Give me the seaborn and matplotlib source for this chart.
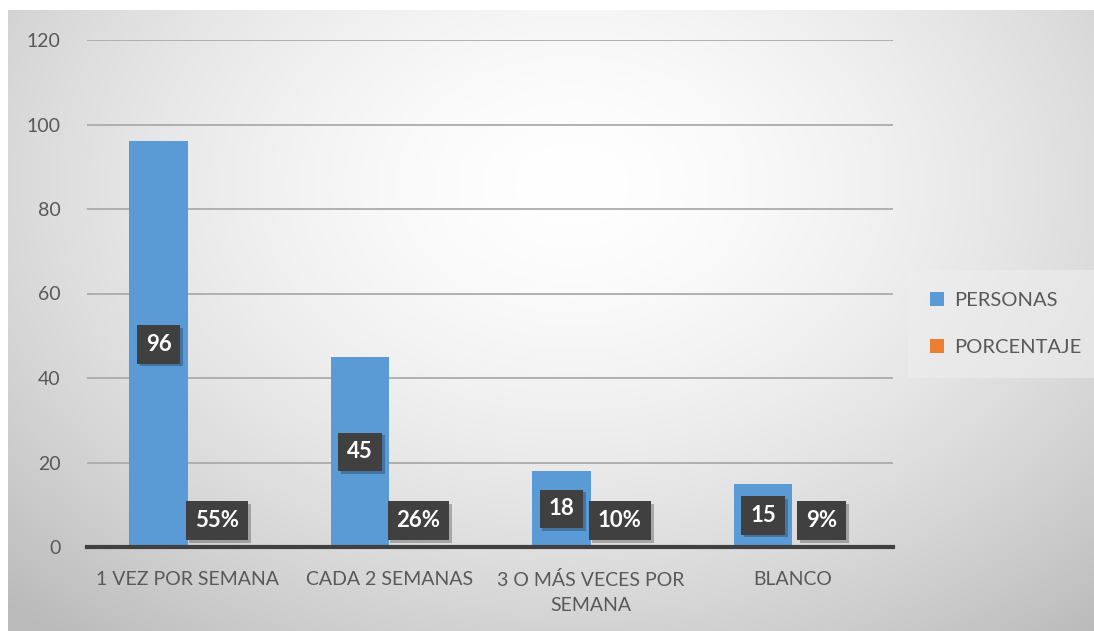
import seaborn as sns
import matplotlib.pyplot as plt
import matplotlib.patheffects as pe
import numpy as np
import pandas as pd

categorias = ['1 VEZ POR SEMANA', 'CADA 2 SEMANAS', '3 O MÁS VECES POR\nSEMANA', 'BLANCO']
personas = [96, 45, 18, 15]
porcentaje = [0.55, 0.26, 0.10, 0.09]
etiquetas_pct = ['55%', '26%', '10%', '9%']
series = ['PERSONAS', 'PORCENTAJE']
colores = ['#5B9BD5', '#ED7D31']
yticks = [0, 20, 40, 60, 80, 100, 120]

df = pd.DataFrame({
    'categoria': categorias * 2,
    'valor': personas + porcentaje,
    'serie': [series[0]] * 4 + [series[1]] * 4,
})

sns.set_style("white")
plt.rcParams['font.family'] = ['Lato', 'DejaVu Sans']

fig = plt.figure(figsize=(10.94, 6.31), dpi=100)

# fondo con degradado radial tipo Excel
bg = fig.add_axes([8 / 1094, 0, 1 - 8 / 1094, 1 - 10 / 631])
gx, gy = np.meshgrid(np.linspace(0, 1, 400), np.linspace(0, 1, 240))
dist = np.sqrt(((gx - 0.52) / 0.75) ** 2 + ((gy - 0.72) / 0.95) ** 2)
shade = 1.0 - 0.27 * np.clip(dist, 0, 1) ** 1.6
bg.imshow(np.dstack([shade] * 3), extent=[0, 1, 0, 1], origin='lower', aspect='auto')
bg.axis('off')

ax = fig.add_axes([87 / 1094, 84 / 631, 806 / 1094, 507 / 631])
ax.patch.set_alpha(0)
sns.barplot(data=df, x='categoria', y='valor', hue='serie', palette=colores,
            width=0.58, ax=ax, saturation=1, legend=True, linewidth=0, edgecolor='none')

ax.set_ylim(0, 120)
ax.set_xlim(-0.5, 3.5)
ax.set_yticks(yticks)
ax.set_xlabel('')
ax.set_ylabel('')
ax.yaxis.grid(True, color='#ababab', lw=1.3)
ax.set_axisbelow(True)
for s in ['top', 'right', 'left']:
    ax.spines[s].set_visible(False)
ax.spines['bottom'].set_color('#404040')
ax.spines['bottom'].set_linewidth(3)
ax.tick_params(axis='y', length=0, pad=19, labelsize=14, labelcolor='#595959')
ax.tick_params(axis='x', which='major', length=0, pad=17, labelsize=14, labelcolor='#595959')
for lab in ax.get_xticklabels():
    lab.set_linespacing(1.6)
ax.set_xticks(np.arange(-0.5, 4, 1), minor=True)
ax.tick_params(axis='x', which='minor', length=7, width=3, color='#404040')

# etiquetas de datos
sombra = [pe.withSimplePatchShadow(offset=(2, -2), shadow_rgbFace='#000000', alpha=0.25), pe.Normal()]
textos = [str(v) for v in personas] + etiquetas_pct
for bar, txt in zip(ax.patches[:8], textos):
    x = bar.get_x() + bar.get_width() / 2
    y = max(bar.get_height() / 2, 6.2)
    t = ax.text(x, y, txt, ha='center', va='center', color='white',
                fontsize=16, fontweight='bold',
                bbox=dict(boxstyle='square,pad=0.4', fc='#404040', ec='none', lw=0))
    t.get_bbox_patch().set_path_effects(sombra)

leg = ax.legend(loc='center left', bbox_to_anchor=(1.013, 0.44), frameon=True,
                fontsize=14.5, labelcolor='#595959', handlelength=0.7, handleheight=0.7,
                handletextpad=0.5, labelspacing=1.45, borderpad=0.8)
leg.get_frame().set_facecolor('#eeeeee')
leg.get_frame().set_alpha(0.6)
leg.get_frame().set_edgecolor('none')
leg.get_frame().set_boxstyle('square')

fig.savefig('out.png', dpi=100)
